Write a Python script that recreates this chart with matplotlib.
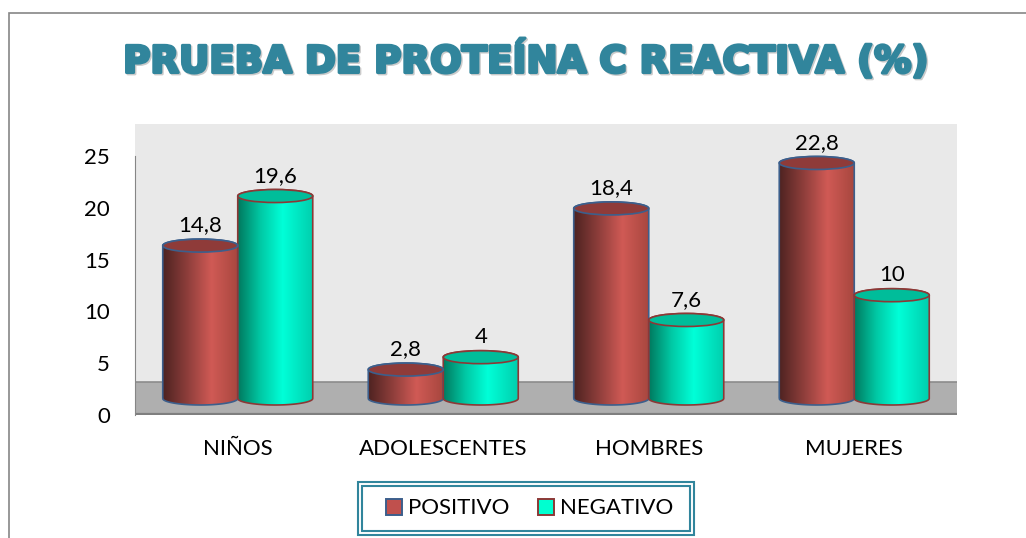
from matplotlib import pyplot as plt
from matplotlib.colors import LinearSegmentedColormap
from matplotlib.patches import Ellipse, Patch, PathPatch, Rectangle
from matplotlib.path import Path
import matplotlib.patheffects as pe
import numpy as np

categories = ['NIÑOS', 'ADOLESCENTES', 'HOMBRES', 'MUJERES']
positivo = [14.8, 2.8, 18.4, 22.8]
negativo = [19.6, 4, 7.6, 10]
labels_pos = ['14,8', '2,8', '18,4', '22,8']
labels_neg = ['19,6', '4', '7,6', '10']
y_ticks = [0, 5, 10, 15, 20, 25]

W, H = 1026, 538
TEAL = '#31859c'
plt.rcParams['font.family'] = ['Lato', 'DejaVu Sans']

cmap_red = LinearSegmentedColormap.from_list(
    'red3d', [(0, '#4e2321'), (0.35, '#93403d'), (0.65, '#d05a55'), (1, '#a8473f')])
cmap_teal = LinearSegmentedColormap.from_list(
    'teal3d', [(0, '#007a5f'), (0.3, '#00c9a5'), (0.6, '#00ffd8'), (1, '#00cfae')])


def px_rect(x0, y0, x1, y1):
    # caja en pixeles de la imagen -> fraccion de figura
    return [x0 / W, 1 - y1 / H, (x1 - x0) / W, (y1 - y0) / H]


def cylinder(ax, x, value, width, cap, cmap, top_color, edge):
    """Dibuja un cilindro centrado en x con altura value."""
    a = width / 2
    b = cap / 2
    t = np.linspace(np.pi, 2 * np.pi, 40)
    low = np.column_stack([x + a * np.cos(t), b * np.sin(t)])
    up = np.column_stack([x + a * np.cos(t[::-1]), value - b * np.sin(t[::-1])])
    verts = np.vstack([low, up, low[:1]])
    body = PathPatch(Path(verts), facecolor='none', edgecolor=edge, linewidth=1.2, zorder=3)
    ax.add_patch(body)
    img = ax.imshow(np.linspace(0, 1, 128).reshape(1, -1), cmap=cmap, aspect='auto',
                    extent=(x - a, x + a, -b, value + b), zorder=2.5)
    img.set_clip_path(body)
    ax.add_patch(Ellipse((x, value), width, cap, facecolor=top_color, edgecolor=edge,
                         linewidth=1.2, zorder=4))


fig = plt.figure(figsize=(W / 100, H / 100), dpi=100)

# marco exterior, solo se ven los lados superior e izquierdo
fig.add_artist(Rectangle((9 / W, -0.1), 1.1, 1 - 13 / H + 0.1, transform=fig.transFigure,
                         facecolor='none', edgecolor='#868686', linewidth=1.2))

# Plano frontal: pared, piso y ejes
ax = fig.add_axes(px_rect(135, 124, 957, 415))
ax.set_xlim(-0.5, 3.5)
ax.set_ylim(0, 291 / 10.36)
ax.axhspan(3.2, 291 / 10.36, color='#e9e9e9', linewidth=0)
ax.axhspan(0, 3.2, facecolor='#afafaf', edgecolor='none')
ax.axhline(3.2, color='#8c8c8c', linewidth=1.2)
ax.axhline(0.05, color='#7f7f7f', linewidth=1.6)
for side in ['top', 'right', 'bottom']:
    ax.spines[side].set_visible(False)
ax.spines['left'].set_bounds(0, 25)
ax.spines['left'].set_color('#868686')
ax.set_xticks(range(len(categories)), categories)
ax.set_yticks(y_ticks)
ax.tick_params(axis='both', length=0, labelsize=16, labelcolor='black')
ax.tick_params(axis='x', pad=17)
ax.tick_params(axis='y', pad=18)

# Plano de las barras, desplazado respecto a los ejes
ax2 = fig.add_axes(px_rect(135, 124, 957, 415))
ax2.patch.set_alpha(0)
ax2.axis('off')
bar_w = 75 / 205.5
cap = 13 / 10.33
for i in range(len(categories)):
    x_pos = i - bar_w / 2
    x_neg = i + bar_w / 2
    cylinder(ax2, x_pos, positivo[i], bar_w, cap, cmap_red, '#8f3b39', '#3c5f8c')
    cylinder(ax2, x_neg, negativo[i], bar_w, cap, cmap_teal, '#00bd9a', '#8c3836')
    ax2.annotate(labels_pos[i], (x_pos, positivo[i]), xytext=(0, 14.5), textcoords='offset points',
                 ha='center', va='center', fontsize=16, zorder=5)
    ax2.annotate(labels_neg[i], (x_neg, negativo[i]), xytext=(0, 14.5), textcoords='offset points',
                 ha='center', va='center', fontsize=16, zorder=5)
ax2.set_xlim(-0.5, 3.5)
ax2.set_ylim(-16.5 / 10.33, 274.5 / 10.33)

# Titulo
fig.text(526 / W, 1 - 61 / H, 'PRUEBA DE PROTEÍNA C REACTIVA (%)', ha='center', va='center',
         fontsize=26.8, fontweight='bold', family='DejaVu Sans', color=TEAL,
         path_effects=[pe.SimpleLineShadow(offset=(1, -1), shadow_color='#999999', alpha=0.5,
                                           linewidth=2.2),
                       pe.withStroke(linewidth=2.2, foreground=TEAL)])

# Leyenda con doble borde
fig.add_artist(Rectangle((357.5 / W, 1 - 534.5 / H), 336 / W, 52.5 / H, transform=fig.transFigure,
                         facecolor='white', edgecolor=TEAL, linewidth=1.5))
fig.add_artist(Rectangle((361.5 / W, 1 - 530.5 / H), 328 / W, 44.5 / H, transform=fig.transFigure,
                         facecolor='white', edgecolor=TEAL, linewidth=1.5))
handles = [Patch(facecolor='#c0504d', edgecolor='#3c5f8c', linewidth=1.4, label='POSITIVO'),
           Patch(facecolor='#00ffd0', edgecolor='#8c3836', linewidth=1.4, label='NEGATIVO')]
fig.legend(handles=handles, loc='center', bbox_to_anchor=(529.5 / W, 1 - 508.5 / H), ncol=2,
           frameon=False, fontsize=16, handlelength=0.72, handleheight=0.72,
           handletextpad=0.27, columnspacing=1.26, borderpad=0, borderaxespad=0)

fig.savefig('out.png', dpi=100)
plt.close(fig)
